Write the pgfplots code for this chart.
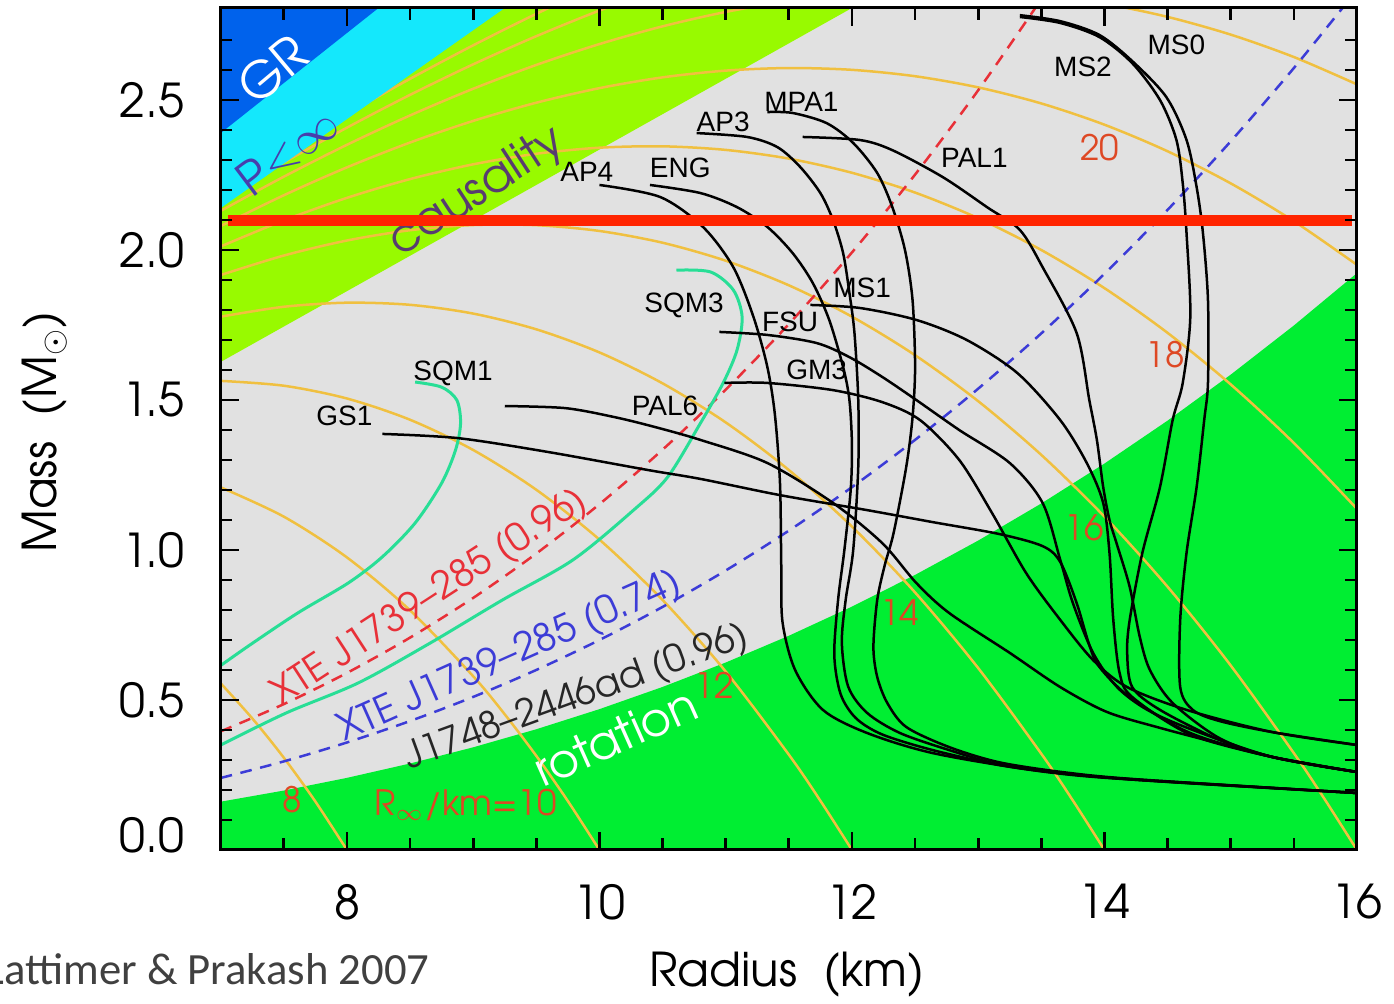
\documentclass[border=0pt]{standalone}
\usepackage{fontspec}
\usepackage{pgfplots}
\pgfplotsset{compat=1.18}
\setmainfont{TeX Gyre Adventor}
\newfontfamily\labfont{Liberation Sans}
\newfontfamily\calfont{Carlito}
\definecolor{bggray}{RGB}{225,225,225}
\definecolor{causal}{RGB}{152,250,0}
\definecolor{pinf}{RGB}{20,232,252}
\definecolor{grblue}{RGB}{0,98,236}
\definecolor{rotgreen}{RGB}{0,238,50}
\definecolor{rinf}{RGB}{240,192,64}
\definecolor{rinftext}{RGB}{222,72,36}
\definecolor{xtered}{RGB}{232,48,56}
\definecolor{xteblue}{RGB}{60,60,215}
\definecolor{sqm}{RGB}{40,222,150}
\definecolor{hline}{RGB}{255,36,0}
\definecolor{causaltext}{RGB}{88,60,112}
\definecolor{pinftext}{RGB}{72,62,172}
\definecolor{credit}{RGB}{64,64,64}
\tikzset{
  eos/.style={black, line width=0.75pt, smooth, tension=0.5},
  orng/.style={rinf, line width=0.75pt, smooth, tension=0.5},
  lab/.style={font=\labfont\fontsize{8.4}{10}\selectfont, inner sep=0, text=black},
  rlab/.style={font=\fontsize{10.5}{12}\selectfont, inner sep=0, text=rinftext},
}
\begin{document}
\begin{tikzpicture}
\useasboundingbox (-66.21pt,-46.2pt) rectangle (351.99pt,255.0pt);
\begin{axis}[
  at={(0pt,0pt)}, anchor=south west,
  scale only axis, width=340.89pt, height=252.6pt,
  xmin=7, xmax=16, ymin=0, ymax=2.807,
  xtick={8,10,12,14,16}, xticklabels={8,10,12,14,16},
  minor xtick={7.5,8.5,9,9.5,10.5,11,11.5,12.5,13,13.5,14.5,15,15.5},
  ytick={0,0.5,1,1.5,2,2.5},
  yticklabels={\raisebox{9pt}{0.0},0.5,1.0,1.5,2.0,2.5},
  minor ytick={0.1,0.2,0.3,0.4,0.6,0.7,0.8,0.9,1.1,1.2,1.3,1.4,1.6,1.7,1.8,1.9,2.1,2.2,2.3,2.4,2.6,2.7},
  tick align=inside, major tick length=5.5pt, minor tick length=3.5pt,
  tick style={black, line width=0.8pt},
  axis line style={black, line width=0.9pt},
  ticklabel style={font=\fontsize{14}{16}\selectfont},
  xticklabel style={yshift=-6.7pt},
  yticklabel style={xshift=-7.5pt},
  axis background/.style={fill=bggray},
  axis on top,
  no markers,
]
% causality region
\addplot[draw=none, fill=causal] coordinates {(7,1.627) (12.0,2.807) (7,2.807)};
% rotation region
\addplot[draw=none, fill=rotgreen] coordinates {(7,0) (7,0.1610) (7.5,0.1981) (8,0.2404) (8.5,0.2883) (9,0.3423) (9.5,0.4025) (10,0.4695) (10.5,0.5435) (11,0.6249) (11.5,0.7141) (12,0.8113) (12.5,0.9170) (13,1.0315) (13.5,1.1552) (14,1.2883) (14.5,1.4313) (15,1.5846) (15.5,1.7484) (16,1.9231) (16,0)};
% constant R_infinity curves
\addplot[orng] coordinates {(7,0.5556) (7.25,0.4387) (7.5,0.3076) (7.75,0.1615) (8,0)};
\addplot[orng] coordinates {(7,1.2090) (7.5,1.1112) (8,0.9753) (8.5,0.7988) (9,0.5791) (9.25,0.4522) (9.5,0.3137) (9.75,0.1630) (10,0)};
\addplot[orng] coordinates {(7,1.5639) (7.5,1.5477) (8,1.5051) (8.5,1.4342) (9,1.3334) (9.5,1.2008) (10,1.0347) (10.5,0.8334) (11,0.5950) (11.5,0.3178) (11.75,0.1641) (12,0)};
\addplot[orng] coordinates {(7,1.7779) (7.5,1.8109) (8,1.8245) (8.5,1.8174) (9,1.7882) (9.5,1.7357) (10,1.6587) (10.5,1.5556) (11,1.4254) (11.5,1.2667) (12,1.0781) (12.5,0.8585) (13,0.6064) (13.5,0.3207) (13.75,0.1648) (14,0)};
\addplot[orng] coordinates {(7,1.9167) (7.5,1.9817) (8,2.0318) (8.5,2.0661) (9,2.0834) (9.5,2.0829) (10,2.0636) (10.5,2.0244) (11,1.9644) (11.5,1.8825) (12,1.7779) (12.5,1.6494) (13,1.4961) (13.5,1.3170) (14,1.1112) (14.5,0.8775) (15,0.6151) (15.5,0.3229) (15.75,0.1654) (16,0)};
\addplot[orng] coordinates {(7,2.0120) (7.5,2.0989) (8,2.1740) (8.5,2.2366) (9,2.2858) (9.5,2.3210) (10,2.3412) (10.5,2.3458) (11,2.3339) (11.5,2.3048) (12,2.2576) (12.5,2.1916) (13,2.1060) (13.5,2.0001) (14,1.8730) (14.5,1.7239) (15,1.5521) (15.5,1.3568) (16,1.1372)};
\addplot[orng] coordinates {(7,2.0801) (7.5,2.1827) (8,2.2757) (8.5,2.3585) (9,2.4306) (9.5,2.4912) (10,2.5398) (10.5,2.5757) (11,2.5982) (11.5,2.6068) (12,2.6008) (12.5,2.5795) (13,2.5423) (13.5,2.4887) (14,2.4179) (14.5,2.3293) (15,2.2223) (15.5,2.0963) (16,1.9506)};
\addplot[orng] coordinates {(7,2.1305) (7.5,2.2446) (8,2.3509) (8.5,2.4488) (9,2.5377) (9.5,2.6172) (10,2.6867) (10.5,2.7458) (11,2.7938) (11.5,2.8302) (12,2.8547) (12.5,2.8665) (13,2.8652) (13.5,2.8502) (14,2.8211) (14.5,2.7773) (15,2.7182) (15.5,2.6435) (16,2.5524)};
\addplot[orng] coordinates {(7,2.1688) (7.5,2.2918) (8,2.4081) (8.5,2.5174) (9,2.6192) (9.5,2.7130) (10,2.7985) (10.5,2.8751)};
\addplot[orng] coordinates {(7,2.1986) (7.5,2.3285) (8,2.4526) (8.5,2.5708) (9,2.6826) (9.5,2.7876) (10,2.8854)};
% P < infinity and GR regions
\addplot[draw=none, fill=pinf] coordinates {(7,2.14) (9.25,2.807) (7,2.807)};
\addplot[draw=none, fill=grblue] coordinates {(7,2.39) (8.25,2.807) (7,2.807)};
% mass-shedding limits
\addplot[xtered, line width=0.75pt, dash pattern=on 3.5pt off 2.6pt, smooth] coordinates {(7,0.3954) (7.5,0.4863) (8,0.5902) (8.5,0.7080) (9,0.8404) (9.5,0.9884) (10,1.1528) (10.5,1.3345) (11,1.5344) (11.5,1.7533) (12,1.9920) (12.5,2.2516) (13,2.5327) (13.5,2.8363)};
\addplot[xteblue, line width=0.75pt, dash pattern=on 3.5pt off 2.6pt, smooth] coordinates {(7,0.2401) (7.5,0.2953) (8,0.3584) (8.5,0.4299) (9,0.5103) (9.5,0.6002) (10,0.7000) (10.5,0.8103) (11,0.9317) (11.5,1.0646) (12,1.2096) (12.5,1.3672) (13,1.5379) (13.5,1.7223) (14,1.9208) (14.5,2.1340) (15,2.3625) (15.5,2.6067) (16,2.8672)};
% strange quark matter
\addplot[sqm, line width=0.9pt, smooth, tension=0.5] coordinates {(7.0,0.615) (7.23,0.683) (7.61,0.79) (8.01,0.89) (8.28,0.977) (8.54,1.09) (8.75,1.223) (8.86,1.333) (8.90,1.423) (8.87,1.5) (8.75,1.543) (8.54,1.56)};
\addplot[sqm, line width=0.9pt, smooth, tension=0.5] coordinates {(7.0,0.35) (7.52,0.457) (8.09,0.557) (8.66,0.69) (9.23,0.833) (9.79,0.967) (10.27,1.133) (10.54,1.243) (10.80,1.423) (10.98,1.557) (11.09,1.667) (11.13,1.777) (11.06,1.867) (10.88,1.927) (10.61,1.933)};
% equations of state
\addplot[eos] coordinates {(10.00,2.217) (10.48,2.177) (10.82,2.077) (11.06,1.943) (11.22,1.777) (11.33,1.610) (11.39,1.45) (11.43,1.223) (11.44,0.95) (11.45,0.76) (11.55,0.60) (11.77,0.467) (12.12,0.39) (12.64,0.323) (13.43,0.267) (14.28,0.233) (16.0,0.19)};
\addplot[eos] coordinates {(10.40,2.217) (10.80,2.19) (11.09,2.143) (11.33,2.077) (11.53,1.99) (11.69,1.89) (11.82,1.767) (11.93,1.61) (11.98,1.5) (12.0,1.35) (11.99,1.2) (11.94,1.0) (11.89,0.833) (11.86,0.65) (11.91,0.52) (12.03,0.44) (12.24,0.385) (12.64,0.333) (13.17,0.283) (13.70,0.252) (14.28,0.233) (16.0,0.19)};
\addplot[eos] coordinates {(10.77,2.39) (11.17,2.377) (11.41,2.343) (11.59,2.277) (11.75,2.19) (11.85,2.1) (11.93,1.99) (11.98,1.857) (12.02,1.723) (12.05,1.5) (12.05,1.277) (12.01,1.0) (11.95,0.833) (11.92,0.69) (11.97,0.545) (12.12,0.457) (12.38,0.39) (12.77,0.333) (13.17,0.285) (13.70,0.254) (14.28,0.234) (16.0,0.19)};
\addplot[eos] coordinates {(11.33,2.46) (11.53,2.457) (11.80,2.423) (12.01,2.357) (12.20,2.257) (12.32,2.143) (12.42,2.0) (12.48,1.833) (12.50,1.61) (12.48,1.443) (12.43,1.277) (12.33,1.057) (12.26,0.95) (12.20,0.833) (12.17,0.677) (12.20,0.577) (12.28,0.49) (12.43,0.41) (12.77,0.343) (13.17,0.292) (13.70,0.258) (14.28,0.235) (16.0,0.19)};
\addplot[eos] coordinates {(11.61,2.377) (12.06,2.367) (12.32,2.333) (12.72,2.243) (13.07,2.143) (13.33,2.067) (13.51,1.943) (13.78,1.723) (13.88,1.5) (13.94,1.367) (13.99,1.21) (14.04,1.10) (14.10,1.017) (14.20,0.877) (14.28,0.71) (14.36,0.6) (14.54,0.49) (14.91,0.373) (15.33,0.31) (16.0,0.26)};
\addplot[eos] coordinates {(11.67,1.817) (12.06,1.807) (12.51,1.767) (12.91,1.7) (13.31,1.59) (13.65,1.433) (13.86,1.29) (13.99,1.157) (14.04,0.99) (14.07,0.767) (14.12,0.59) (14.22,0.51) (14.68,0.385) (15.33,0.31) (16.0,0.26)};
\addplot[eos] coordinates {(10.95,1.727) (11.33,1.717) (11.72,1.69) (11.98,1.643) (12.24,1.577) (12.51,1.5) (12.85,1.4) (13.25,1.29) (13.51,1.157) (13.65,0.967) (13.75,0.823) (13.91,0.657) (14.10,0.543) (14.34,0.467) (14.70,0.4) (15.33,0.31) (16.0,0.26)};
\addplot[eos] coordinates {(10.99,1.557) (11.33,1.557) (11.85,1.533) (12.24,1.493) (12.54,1.433) (12.85,1.3) (13.11,1.123) (13.38,0.923) (13.65,0.767) (13.91,0.633) (14.18,0.543) (14.65,0.467) (15.33,0.393) (16.0,0.35)};
\addplot[eos] coordinates {(8.28,1.387) (8.88,1.373) (9.59,1.327) (10.38,1.267) (10.80,1.237) (11.43,1.183) (12.12,1.133) (12.64,1.093) (13.17,1.053) (13.51,1.013) (13.65,0.96) (13.78,0.823) (13.88,0.683) (13.96,0.61) (14.20,0.51) (14.68,0.39) (15.33,0.31) (16.0,0.26)};
\addplot[eos] coordinates {(9.25,1.48) (9.73,1.473) (10.12,1.443) (10.44,1.41) (10.80,1.367) (11.33,1.29) (11.85,1.157) (12.24,1.023) (12.51,0.89) (12.77,0.79) (13.25,0.657) (13.65,0.543) (14.02,0.46) (14.44,0.407) (14.91,0.355) (15.33,0.31) (16.0,0.26)};
\addplot[eos] coordinates {(13.33,2.777) (13.65,2.757) (13.96,2.71) (14.22,2.623) (14.44,2.5) (14.57,2.367) (14.62,2.223) (14.65,2.057) (14.68,1.777) (14.62,1.557) (14.54,1.433) (14.44,1.21) (14.30,0.99) (14.20,0.767) (14.18,0.657) (14.22,0.543) (14.44,0.467) (14.91,0.367) (15.33,0.31) (16.0,0.26)};
\addplot[eos] coordinates {(13.33,2.783) (13.65,2.763) (13.96,2.717) (14.22,2.63) (14.49,2.51) (14.65,2.367) (14.73,2.21) (14.78,2.057) (14.82,1.833) (14.82,1.557) (14.79,1.433) (14.73,1.21) (14.65,0.99) (14.60,0.767) (14.60,0.543) (14.70,0.467) (14.91,0.43) (15.33,0.393) (16.0,0.35)};
% region labels
\node[rotate=40, text=white, font=\fontsize{15}{17}\selectfont, inner sep=0] at (axis cs:7.41,2.60) {GR};
\node[rotate=37, text=pinftext, font=\fontsize{14}{16}\selectfont, inner sep=0] at (axis cs:7.53,2.33) {P$\mathord{<}\mathord{\infty}$};
\node[rotate=33, text=causaltext, font=\fontsize{14}{16}\selectfont, inner sep=0] at (axis cs:9.03,2.193) {causality};
\node[rotate=33, text=xtered, font=\fontsize{11.4}{13}\selectfont, inner sep=0] at (axis cs:8.66,0.84) {XTE J1739--285 (0.96)};
\node[rotate=24, text=xteblue, font=\fontsize{11.5}{13}\selectfont, inner sep=0] at (axis cs:9.29,0.643) {XTE J1739--285 (0.74)};
\node[rotate=20, text=black!85, font=\fontsize{11.2}{13}\selectfont, inner sep=0] at (axis cs:9.82,0.507) {J1748--2446ad (0.96)};
\node[rotate=24, text=white, font=\fontsize{14}{16}\selectfont, inner sep=0] at (axis cs:10.13,0.377) {rotation};
% R_infinity labels
\node[rlab] at (axis cs:7.57,0.167) {8};
\node[rlab] at (axis cs:8.94,0.15) {R$_\infty$/km=10};
\node[rlab] at (axis cs:10.91,0.55) {12};
\node[rlab] at (axis cs:12.38,0.793) {14};
\node[rlab] at (axis cs:13.84,1.073) {16};
\node[rlab] at (axis cs:14.48,1.65) {18};
\node[rlab] at (axis cs:13.96,2.34) {20};
% EOS labels
\node[lab] at (axis cs:7.98,1.447) {GS1};
\node[lab] at (axis cs:8.84,1.59) {SQM1};
\node[lab] at (axis cs:10.52,1.48) {PAL6};
\node[lab] at (axis cs:10.67,1.817) {SQM3};
\node[lab] at (axis cs:11.51,1.76) {FSU};
\node[lab] at (axis cs:12.08,1.873) {MS1};
\node[lab] at (axis cs:11.72,1.60) {GM3};
\node[lab] at (axis cs:9.90,2.26) {AP4};
\node[lab] at (axis cs:10.64,2.273) {ENG};
\node[lab] at (axis cs:10.98,2.427) {AP3};
\node[lab] at (axis cs:11.60,2.493) {MPA1};
\node[lab] at (axis cs:12.97,2.307) {PAL1};
\node[lab] at (axis cs:13.83,2.61) {MS2};
\node[lab] at (axis cs:14.57,2.683) {MS0};
% 2.1 solar mass line
\addplot[hline, line width=3.3pt] coordinates {(7.06,2.1) (15.96,2.1)};
\end{axis}
\node[font=\fontsize{14}{16}\selectfont] at (169.9pt,-37.5pt) {Radius\ \ (km)};
\node[font=\fontsize{14}{16}\selectfont, rotate=90] at (-52.7pt,125.4pt) {Mass\ \ (M$_\odot$)};
\node[anchor=base east, inner sep=0, text=credit, font=\calfont\fontsize{13.4}{16}\selectfont] at (62.8pt,-40.5pt) {Lattimer \& Prakash 2007};
\end{tikzpicture}
\end{document}
